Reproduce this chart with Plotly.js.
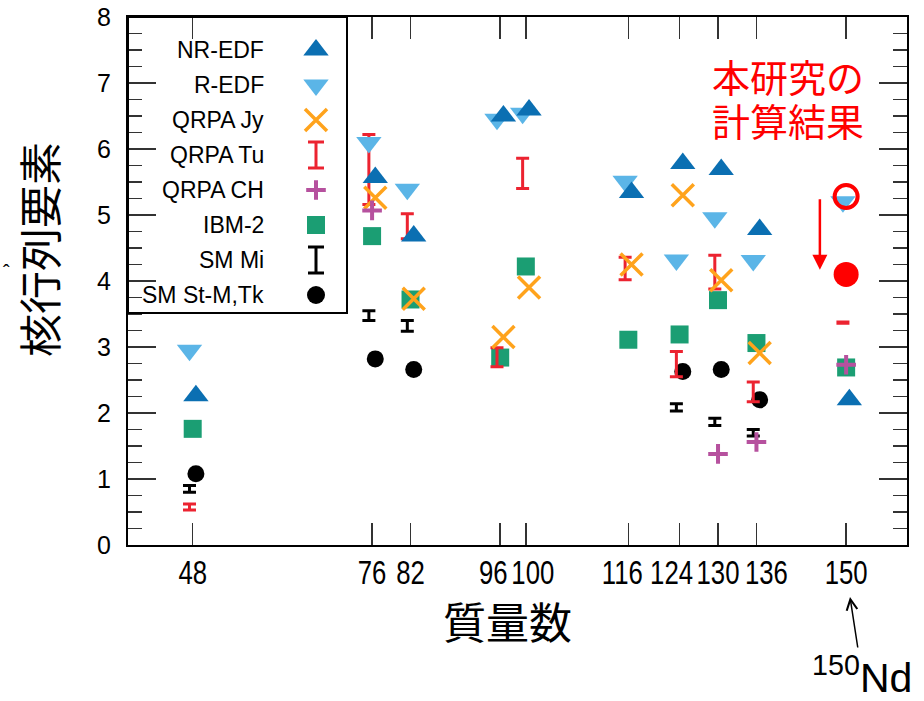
<!DOCTYPE html>
<html><head><meta charset="utf-8">
<script src="https://cdn.plot.ly/plotly-3.0.1.min.js"></script>
<style>html,body{margin:0;padding:0;background:#fff;}#chart{width:924px;height:701px;}</style>
</head><body><div id="chart"></div>
<script>
// ---- data ----
const tickMass   = [48, 76, 82, 96, 100, 116, 124, 130, 136, 150];
const tickLabels = ['48','76','82','96','100','116','124','130','136','150'];

const nrEdfA = [48, 76, 82, 96, 100, 116, 124, 130, 136, 150];
const nrEdf  = [2.26, 5.57, 4.68, 6.50, 6.59, 5.34, 5.78, 5.69, 4.78, 2.20];

const rEdfA = [48, 76, 82, 96, 100, 116, 124, 130, 136, 150];
const rEdf  = [2.95, 6.10, 5.39, 6.45, 6.54, 5.51, 4.32, 4.96, 4.31, 5.20];

const jyA = [76, 82, 96, 100, 116, 124, 130, 136];
const jy  = [5.26, 3.73, 3.15, 3.90, 4.25, 5.30, 4.01, 2.91];

const tuA    = [48, 76, 82, 96, 100, 116, 124, 130, 136, 150];
const tuLow  = [0.53, 5.16, 4.64, 2.70, 5.40, 4.02, 2.55, 3.88, 2.17, 3.36];
const tuHigh = [0.62, 6.22, 5.02, 2.99, 5.86, 4.36, 2.93, 4.39, 2.47, 3.38];

const chA = [76, 130, 136, 150];
const ch  = [5.07, 1.38, 1.56, 2.73];

const ibmA = [48, 76, 82, 96, 100, 116, 124, 130, 136, 150];
const ibm  = [1.76, 4.68, 3.72, 2.84, 4.22, 3.11, 3.19, 3.71, 3.06, 2.69];

const miA    = [48, 76, 82, 124, 130, 136];
const miLow  = [0.80, 3.40, 3.24, 2.03, 1.81, 1.65];
const miHigh = [0.90, 3.55, 3.40, 2.14, 1.92, 1.75];

const stA = [48, 76, 82, 124, 130, 136];
const st  = [1.08, 2.82, 2.66, 2.63, 2.66, 2.20];

const thisWorkA    = [150];
const thisWorkPrev = [5.28];
const thisWorkNew  = [4.10];

const seriesNames = ['NR-EDF','R-EDF','QRPA Jy','QRPA Tu','QRPA CH','IBM-2','SM Mi','SM St-M,Tk'];

// ---- styling ----
const C = {nr:'#0B6FB2', r:'#5BB5E7', jy:'#FFA31C', tu:'#EC2330', ch:'#B6519E', ibm:'#1B9E73', k:'#000000', red:'#FF0000'};
const shift = (arr, d) => arr.map(v => v + d);
const mid = (lo, hi) => lo.map((v, i) => (v + hi[i]) / 2);
const half = (lo, hi) => lo.map((v, i) => (hi[i] - v) / 2);
const L = -0.5, R = 0.5;
const invis = {size: 1, color: 'rgba(0,0,0,0)'};

const traces = [
  {x: shift(stA, R), y: st, mode:'markers', name:'SM St-M,Tk', marker:{symbol:'circle', size:17, color:C.k}},
  {x: shift(miA, L), y: mid(miLow, miHigh), mode:'markers', name:'SM Mi', marker:invis,
   error_y:{type:'data', array: half(miLow, miHigh), visible:true, color:C.k, thickness:3, width:6.5}},
  {x: ibmA, y: ibm, mode:'markers', name:'IBM-2', marker:{symbol:'square', size:18, color:C.ibm}},
  {x: shift(tuA, L), y: mid(tuLow, tuHigh), mode:'markers', name:'QRPA Tu', marker:invis,
   error_y:{type:'data', array: half(tuLow, tuHigh), visible:true, color:C.tu, thickness:3, width:6.5}},
  {x: shift(rEdfA, L), y: rEdf, mode:'markers', name:'R-EDF', marker:{symbol:'triangle-down', size:22, color:C.r}},
  {x: shift(nrEdfA, R), y: nrEdf, mode:'markers', name:'NR-EDF', marker:{symbol:'triangle-up', size:22, color:C.nr}},
  {x: shift(jyA, R), y: jy, mode:'markers', name:'QRPA Jy', marker:{symbol:'x-thin', size:22, color:C.jy, line:{color:C.jy, width:3.5}}},
  {x: chA, y: ch, mode:'markers', name:'QRPA CH', marker:{symbol:'cross-thin', size:14, color:C.ch, line:{color:C.ch, width:4}}},
  {x: thisWorkA, y: thisWorkPrev, mode:'markers', name:'本研究 (旧)', marker:{symbol:'circle-open', size:23, color:C.red, line:{color:C.red, width:4}}},
  {x: thisWorkA, y: thisWorkNew, mode:'markers', name:'本研究の計算結果', marker:{symbol:'circle', size:25, color:C.red}}
];
traces.forEach(t => { t.showlegend = false; t.hoverinfo = 'x+y+name'; t.cliponaxis = false; });

// legend keys (on a hidden helper axis, one row per series)
const keyStyle = {
  'NR-EDF': {marker:{symbol:'triangle-up', size:22, color:C.nr}},
  'R-EDF': {marker:{symbol:'triangle-down', size:22, color:C.r}},
  'QRPA Jy': {marker:{symbol:'x-thin', size:22, color:C.jy, line:{color:C.jy, width:3.5}}},
  'QRPA Tu': {marker:invis, error_y:{type:'data', array:[0.37], visible:true, color:C.tu, thickness:3, width:8}},
  'QRPA CH': {marker:{symbol:'cross-thin', size:14, color:C.ch, line:{color:C.ch, width:4}}},
  'IBM-2': {marker:{symbol:'square', size:18, color:C.ibm}},
  'SM Mi': {marker:invis, error_y:{type:'data', array:[0.37], visible:true, color:C.k, thickness:3, width:8}},
  'SM St-M,Tk': {marker:{symbol:'circle', size:18, color:C.k}}
};
seriesNames.forEach((n, i) => {
  traces.push(Object.assign({x:[0], y:[i], xaxis:'x2', yaxis:'y2', mode:'markers', showlegend:false, hoverinfo:'skip', name:n+' (key)'}, keyStyle[n]));
});

// ---- layout ----
const W = 924, H = 701, mL = 128, mR = 17, mT = 17, mB = 156;
const pw = W - mL - mR, ph = H - mT - mB;
const px = p => (p - mL) / pw;          // pixel -> paper x
const py = p => (H - mB - p) / ph;      // pixel -> paper y

// small horizontal nudges of crowded tick labels (pixels), as in the reference
const labelNudge = {'96': -7, '100': 7, '116': -6, '124': -8, '136': 10};
const X_SQUEEZE = 0.78;   // condensed look of the x tick labels
const X_LIFT = -3;        // tick labels sit slightly closer to the axis

const sans = 'Liberation Sans, Arial, sans-serif';
const cjk = 'Noto Sans CJK JP, sans-serif';

const annotations = [
  {xref:'paper', yref:'paper', x:px(38), y:py(250), text:'核行列要素', textangle:-90, showarrow:false,
   font:{family:cjk, size:43, color:'#000'}, xanchor:'center', yanchor:'middle'},
  {xref:'paper', yref:'paper', x:px(6), y:py(272), text:'ˆ', showarrow:false,
   font:{family:sans, size:20, color:'#000'}, xanchor:'center', yanchor:'middle'},
  {xref:'paper', yref:'paper', x:px(507), y:py(620), text:'質量数', showarrow:false, height:46,
   font:{family:cjk, size:43, color:'#000'}, xanchor:'center', yanchor:'middle'},
  {xref:'paper', yref:'paper', x:px(788), y:py(75), text:'本研究の', showarrow:false, height:42,
   font:{family:cjk, size:38, color:C.red}, xanchor:'center', yanchor:'middle'},
  {xref:'paper', yref:'paper', x:px(788), y:py(119), text:'計算結果', showarrow:false, height:42,
   font:{family:cjk, size:38, color:C.red}, xanchor:'center', yanchor:'middle'},
  {xref:'paper', yref:'paper', x:px(850), y:py(597), ax:12, ay:78, axref:'pixel', ayref:'pixel',
   text:'<sup>150</sup>Nd', showarrow:true, arrowhead:5, arrowsize:1.4, arrowwidth:1.5, arrowcolor:'#000',
   font:{family:sans, size:41, color:'#000'}},
  {xref:'x', yref:'y', x:thisWorkA[0] - 4.1, y:thisWorkNew[0] + 0.07, axref:'x', ayref:'y', ax:thisWorkA[0] - 4.1, ay:thisWorkPrev[0] - 0.02,
   text:'', showarrow:true, arrowhead:2, arrowsize:1.2, arrowwidth:2.5, arrowcolor:C.red}
];
seriesNames.forEach((n, i) => {
  annotations.push({xref:'paper', yref:'y2', x:px(266), y:i, text:n, showarrow:false,
    font:{family:sans, size:23, color:'#000'}, xanchor:'right', yanchor:'middle'});
});

const layout = {
  width: W, height: H,
  margin: {l:mL, r:mR, t:mT, b:mB, pad:0},
  paper_bgcolor:'#fff', plot_bgcolor:'#fff',
  showlegend:false,
  xaxis: {
    range:[37.9, 159.5], tickmode:'array', tickvals:tickMass, ticktext:tickLabels, tickangle:0,
    ticks:'inside', ticklen:22, tickwidth:1.5, tickcolor:'#333',
    showline:true, linewidth:2, linecolor:'#000', mirror:'ticks', showgrid:false, zeroline:false,
    tickfont:{family:sans, size:33, color:'#000'}, ticklabelstandoff:0
  },
  yaxis: {
    range:[0, 8], tickmode:'linear', tick0:0, dtick:1,
    ticks:'inside', ticklen:28, tickwidth:1.5, tickcolor:'#333',
    minor:{dtick:0.25, ticks:'inside', ticklen:14, tickwidth:1.2, tickcolor:'#333', showgrid:false},
    showline:true, linewidth:2, linecolor:'#000', mirror:'ticks', showgrid:false, zeroline:false,
    tickfont:{family:sans, size:25, color:'#000'}, ticklabelstandoff:10
  },
  xaxis2: {domain:[px(300), px(332)], range:[-1, 1], anchor:'y2', visible:false, fixedrange:true},
  yaxis2: {domain:[py(315), py(30)], range:[7.571, -0.571], anchor:'x2', visible:false, fixedrange:true},
  shapes: [
    {type:'rect', xref:'paper', yref:'paper', x0:0, x1:px(347), y0:py(313), y1:1,
     line:{color:'#000', width:2}, fillcolor:'rgba(0,0,0,0)', layer:'above'}
  ],
  annotations: annotations
};

Plotly.newPlot('chart', traces, layout, {displayModeBar:false, staticPlot:true}).then(gd => {
  gd.querySelectorAll('.xtick text').forEach(t => {
    const x = parseFloat(t.getAttribute('x') || '0');
    const dx = labelNudge[t.textContent.trim()] || 0;
    const tr = t.getAttribute('transform') || '';
    t.setAttribute('transform', tr + ' translate(' + (x + dx) + ',' + X_LIFT + ') scale(' + X_SQUEEZE + ',1) translate(' + (-x) + ',0)');
  });
});
</script>
</body></html>
